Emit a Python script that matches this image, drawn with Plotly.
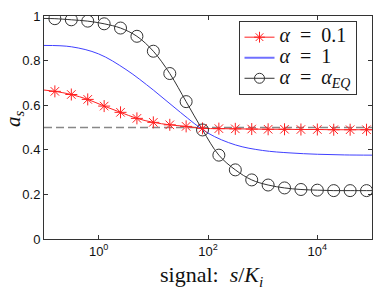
import plotly.graph_objects as go

# marker positions (signal s/K_i)
sig_markers = [0.158, 0.316, 0.631, 1.26, 2.51, 5.01, 10, 20, 39.8, 79.4,
               158, 316, 631, 1259, 2512, 5012, 10000, 19953, 39811, 79433]
red_vals = [0.662, 0.648, 0.626, 0.596, 0.568, 0.541, 0.523, 0.512, 0.505, 0.496,
            0.495, 0.494, 0.493, 0.492, 0.492, 0.491, 0.491, 0.490, 0.490, 0.490]
black_vals = [0.988, 0.983, 0.977, 0.965, 0.946, 0.909, 0.842, 0.742, 0.616, 0.489,
              0.376, 0.310, 0.265, 0.242, 0.229, 0.222, 0.219, 0.217, 0.217, 0.217]
# line end values at axis edges
sig_edges = [0.1, 100000]
red_edges = [0.668, 0.490]
black_edges = [0.989, 0.217]

# blue curve samples
sig_blue = [0.1, 0.316, 1, 3.16, 10, 31.6, 100, 316, 1000, 3162, 10000, 31623, 100000]
blue_vals = [0.868, 0.862, 0.830, 0.760, 0.668, 0.567, 0.475, 0.422, 0.397, 0.386, 0.380, 0.377, 0.376]

ref_level = 0.5
y_ticks = [0, 0.2, 0.4, 0.6, 0.8, 1]
y_ticktext = ["0", "0.2", "0.4", "0.6", "0.8", "1"]
x_ticks = [1, 100, 10000]
x_ticktext = ["10<sup>0</sup>", "10<sup>2</sup>", "10<sup>4</sup>"]
NB = "\u00a0"
SP = '<span style="font-size:20px;font-family:Liberation Serif">'
labels = [
    f"{SP}<i>α</i>{NB*2}={NB*2}0.1</span>",
    f"{SP}<i>α</i>{NB*2}={NB*2}1</span>",
    f"{SP}<i>α</i>{NB*2}={NB*2}<i>α</i><sub><i>EQ</i></sub></span>",
]

RED = "#ff2020"
BLUE = "#4040ff"
BLACK = "#333333"
SERIF = "Liberation Serif"
SANS = "Liberation Sans"

fig = go.Figure()

# dashed reference
fig.add_trace(go.Scatter(x=sig_edges, y=[ref_level, ref_level], mode="lines",
                         line=dict(color="#888888", width=1.5, dash="8px,4px"),
                         showlegend=False, hoverinfo="skip"))

def full(xm, ym, xe, ye):
    return [xe[0]] + xm + [xe[1]], [ye[0]] + ym + [ye[1]]

rx, ry = full(sig_markers, red_vals, sig_edges, red_edges)
bx, by = full(sig_markers, black_vals, sig_edges, black_edges)

fig.add_trace(go.Scatter(x=rx, y=ry, mode="lines", line=dict(color=RED, width=1, shape="spline"),
                         showlegend=False))
fig.add_trace(go.Scatter(x=sig_blue, y=blue_vals, mode="lines", line=dict(color=BLUE, width=1, shape="spline"),
                         showlegend=False))
fig.add_trace(go.Scatter(x=bx, y=by, mode="lines", line=dict(color=BLACK, width=1, shape="spline"),
                         showlegend=False))
fig.add_trace(go.Scatter(x=sig_markers, y=red_vals, mode="markers",
                         marker=dict(symbol="asterisk-open", size=10, color=RED, line=dict(color=RED, width=1)),
                         showlegend=False))
fig.add_trace(go.Scatter(x=sig_markers, y=black_vals, mode="markers",
                         marker=dict(symbol="circle-open", size=12, color=BLACK, line=dict(color=BLACK, width=1)),
                         showlegend=False))

# legend entries
fig.add_trace(go.Scatter(x=[None], y=[None], mode="lines+markers", name=labels[0],
                         line=dict(color=RED, width=1),
                         marker=dict(symbol="asterisk-open", size=9, color=RED, line=dict(color=RED, width=1))))
fig.add_trace(go.Scatter(x=[None], y=[None], mode="lines", name=labels[1],
                         line=dict(color="#7070ff", width=2)))
fig.add_trace(go.Scatter(x=[None], y=[None], mode="lines+markers", name=labels[2],
                         line=dict(color=BLACK, width=1),
                         marker=dict(symbol="circle-open", size=10, color=BLACK, line=dict(color=BLACK, width=1))))

axis_common = dict(showgrid=False, zeroline=False, showline=True, linecolor="#333333", linewidth=1,
                   mirror="ticks", ticks="inside", ticklen=4, tickcolor="#333333",
                   tickfont=dict(family=SANS, size=13, color="#111111"))

fig.update_layout(
    width=382, height=289,
    margin=dict(l=44, r=9, t=14, b=50),
    paper_bgcolor="white", plot_bgcolor="white",
    xaxis=dict(type="log", range=[-1, 5], tickvals=x_ticks, ticktext=x_ticktext, **axis_common),
    yaxis=dict(range=[0, 1], tickvals=y_ticks, ticktext=y_ticktext, **axis_common),
    legend=dict(x=0.593, y=0.978, xanchor="left", yanchor="top",
                bgcolor="white", bordercolor="#333333", borderwidth=1,
                font=dict(family=SERIF, size=13.5, color="#111111"),
                itemwidth=30, tracegroupgap=0),
    showlegend=True,
)

fig.add_annotation(xref="paper", yref="paper", x=0.51, y=-0.164, xanchor="center", yanchor="middle",
                   text=f"signal:{NB*2}<i>s</i>/<i>K</i><sub><i>i</i></sub>", showarrow=False,
                   font=dict(family=SERIF, size=22, color="#111111"))
fig.add_annotation(xref="paper", yref="paper", x=-0.092, y=0.542, xanchor="center", yanchor="middle",
                   text="<i>a</i><sub><i>s</i></sub>", showarrow=False, textangle=-90,
                   font=dict(family=SERIF, size=21, color="#111111"))

# remove the default page margin so the figure sits at the window's top-left corner
fig.write_html("out.html", config={"displayModeBar": False},
               post_script="document.body.style.margin='0px';")
